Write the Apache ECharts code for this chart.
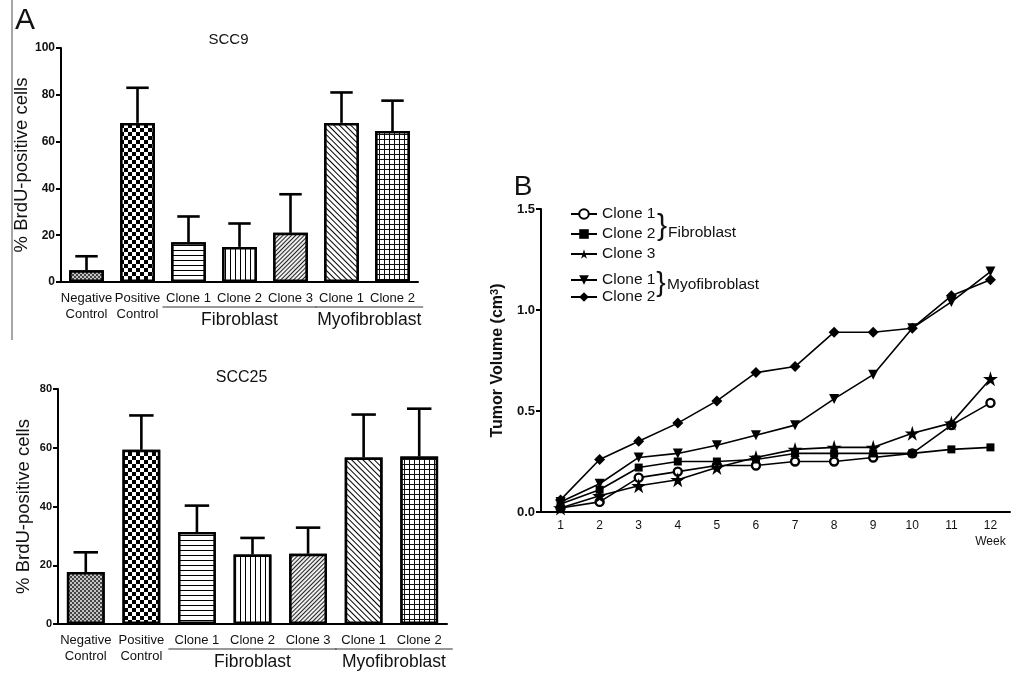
<!DOCTYPE html>
<html>
<head>
<meta charset="utf-8">
<script src="https://cdn.jsdelivr.net/npm/echarts@6/dist/echarts.min.js"></script>
<style>
html, body { margin: 0; padding: 0; background: #fff; }
#main { width: 1021px; height: 674px; }
</style>
</head>
<body>
<div id="main"></div>
<script>
// --- data ---
var barCategories = ['Negative\nControl', 'Positive\nControl', 'Clone 1', 'Clone 2', 'Clone 3', 'Clone 1', 'Clone 2'];
var scc9Mean = [5, 68, 17, 15, 21, 68, 64.5];
var scc9Upper = [11, 83, 28, 25, 37.5, 81, 77.5];
var scc25Mean = [17.7, 59.3, 31.3, 23.7, 23.9, 56.7, 57];
var scc25Upper = [24.4, 71, 40.3, 29.3, 32.8, 71.3, 73.3];
var groupNames = ['Fibroblast', 'Myofibroblast'];
var groupFrom = [2, 5];
var groupTo = [4, 6];

var weeks = ['1', '2', '3', '4', '5', '6', '7', '8', '9', '10', '11', '12'];
var fibClone1 = [0.02, 0.05, 0.17, 0.20, 0.23, 0.23, 0.25, 0.25, 0.27, 0.29, 0.43, 0.54];
var fibClone2 = [0.04, 0.11, 0.22, 0.25, 0.25, 0.26, 0.29, 0.29, 0.29, 0.29, 0.31, 0.32];
var fibClone3 = [0.02, 0.08, 0.13, 0.16, 0.22, 0.27, 0.31, 0.32, 0.32, 0.39, 0.44, 0.66];
var myoClone1 = [0.05, 0.14, 0.27, 0.29, 0.33, 0.38, 0.43, 0.56, 0.68, 0.91, 1.04, 1.19];
var myoClone2 = [0.06, 0.26, 0.35, 0.44, 0.55, 0.69, 0.72, 0.89, 0.89, 0.91, 1.07, 1.15];

var FONT = '"Liberation Sans", Arial, sans-serif';

// fill patterns of the bars (one per category)
var patterns = [
    { symbol: 'rect', symbolKeepAspect: false, color: '#444', backgroundColor: '#c4c4c4', dashArrayX: [[2, 2], [0, 2, 2, 0]], dashArrayY: [2, 0] },
    { symbol: 'rect', symbolKeepAspect: false, color: '#000', backgroundColor: '#fff', dashArrayX: [[3.5, 3.5], [0, 3.5, 3.5, 0]], dashArrayY: [3.5, 0] },
    { symbol: 'rect', symbolKeepAspect: false, color: '#000', backgroundColor: '#fff', dashArrayX: [1, 0], dashArrayY: [1, 3.5] },
    { symbol: 'rect', symbolKeepAspect: false, color: '#000', backgroundColor: '#fff', dashArrayX: [1, 3.5], dashArrayY: [1, 0] },
    { symbol: 'rect', symbolKeepAspect: false, color: '#222', backgroundColor: '#eee', dashArrayX: [1, 0], dashArrayY: [1, 2], rotation: -Math.PI / 4 },
    { symbol: 'rect', symbolKeepAspect: false, color: '#000', backgroundColor: '#fff', dashArrayX: [1, 0], dashArrayY: [1, 3], rotation: Math.PI / 4 },
    { symbol: 'rect', symbolKeepAspect: false, color: '#fff', backgroundColor: '#111', dashArrayX: [3.8, 1], dashArrayY: [3.8, 1] }
];

var dom = document.getElementById('main');
var chart = echarts.init(dom);

function barSeries(idx, mean) {
    return {
        type: 'bar',
        xAxisIndex: idx,
        yAxisIndex: idx,
        barWidth: '68%',
        itemStyle: { color: '#fff', borderColor: '#000', borderWidth: 2.5 },
        data: mean.map(function (v, i) {
            return { value: v, itemStyle: { decal: patterns[i] } };
        }),
        silent: true
    };
}

function errorSeries(idx, mean, upper) {
    return {
        type: 'custom',
        xAxisIndex: idx,
        yAxisIndex: idx,
        z: 5,
        encode: { x: 0, y: [1, 2] },
        data: mean.map(function (m, i) { return [i, m, upper[i]]; }),
        renderItem: function (params, api) {
            var x = api.value(0);
            var lo = api.coord([x, api.value(1)]);
            var hi = api.coord([x, api.value(2)]);
            var half = api.size([1, 0])[0] * 0.22;
            var st = { stroke: '#000', lineWidth: 2.6 };
            return {
                type: 'group',
                children: [
                    { type: 'line', shape: { x1: lo[0], y1: lo[1], x2: hi[0], y2: hi[1] }, style: st },
                    { type: 'line', shape: { x1: hi[0] - half, y1: hi[1], x2: hi[0] + half, y2: hi[1] }, style: st }
                ]
            };
        }
    };
}

var starPath = 'path://M50,0 L61,35 L98,35 L68,57 L79,91 L50,70 L21,91 L32,57 L2,35 L39,35 Z';

function lineSeries(name, data, symbol, size, extra) {
    var s = {
        name: name,
        type: 'line',
        xAxisIndex: 2,
        yAxisIndex: 2,
        data: data,
        symbol: symbol,
        symbolSize: size,
        showAllSymbol: true,
        lineStyle: { color: '#000', width: 1.6 },
        itemStyle: { color: '#000', borderColor: '#000', borderWidth: 0 },
        emphasis: { disabled: true }
    };
    if (extra) {
        for (var k in extra) { s[k] = extra[k]; }
    }
    return s;
}

function catAxis(idx) {
    return {
        type: 'category',
        gridIndex: idx,
        data: barCategories,
        axisLine: { lineStyle: { color: '#000', width: 2 } },
        axisTick: { alignWithLabel: true, length: 6, lineStyle: { color: '#000', width: 2 } },
        axisLabel: { color: '#111', fontSize: 13, fontFamily: FONT, lineHeight: 16, margin: 8, interval: 0 }
    };
}

function valAxis(idx, max, fs) {
    return {
        type: 'value',
        gridIndex: idx,
        min: 0,
        max: max,
        interval: 20,
        name: '% BrdU-positive cells',
        nameLocation: 'middle',
        nameGap: 25,
        nameTextStyle: { color: '#111', fontSize: 18.5, fontFamily: FONT },
        splitLine: { show: false },
        axisLine: { show: true, lineStyle: { color: '#000', width: 2 } },
        axisTick: { show: true, length: 5, lineStyle: { color: '#000', width: 2 } },
        axisLabel: { color: '#111', fontSize: fs, fontWeight: 'bold', fontFamily: FONT, margin: 6 }
    };
}

var option = {
    animation: false,
    backgroundColor: '#fff',
    grid: [
        { left: 61, top: 48, width: 357, height: 234 },
        { left: 58, top: 389, width: 389, height: 235 },
        { left: 541, top: 209, width: 469, height: 303 }
    ],
    legend: [
        {
            data: ['Fibroblast Clone 1', 'Fibroblast Clone 2', 'Fibroblast Clone 3'],
            orient: 'vertical', left: 565, top: 201, itemGap: 4,
            itemWidth: 26, itemHeight: 12, selectedMode: false,
            formatter: function (n) { return n.replace(/^\S+ /, ''); },
            textStyle: { color: '#111', fontSize: 15.5, fontFamily: FONT, lineHeight: 16 }
        },
        {
            data: ['Myofibroblast Clone 1', 'Myofibroblast Clone 2'],
            orient: 'vertical', left: 565, top: 267, itemGap: 1,
            itemWidth: 26, itemHeight: 12, selectedMode: false,
            formatter: function (n) { return n.replace(/^\S+ /, ''); },
            textStyle: { color: '#111', fontSize: 15.5, fontFamily: FONT, lineHeight: 16 }
        }
    ],
    xAxis: [
        catAxis(0),
        catAxis(1),
        {
            type: 'category',
            gridIndex: 2,
            data: weeks,
            boundaryGap: true,
            axisLine: { lineStyle: { color: '#000', width: 2 } },
            axisTick: { alignWithLabel: true, length: 6, lineStyle: { color: '#000', width: 2 } },
            axisLabel: { color: '#111', fontSize: 12, fontFamily: FONT, margin: 8 }
        }
    ],
    yAxis: [
        valAxis(0, 100, 12),
        valAxis(1, 80, 11),
        {
            type: 'value',
            gridIndex: 2,
            min: 0,
            max: 1.5,
            interval: 0.5,
            name: 'Tumor Volume (cm{sup|3})',
            nameLocation: 'middle',
            nameGap: 34,
            nameTextStyle: {
                color: '#111', fontSize: 16, fontWeight: 'bold', fontFamily: FONT,
                rich: { sup: { fontSize: 11, fontWeight: 'bold', verticalAlign: 'top', padding: [0, 0, 7, 0], fontFamily: FONT, color: '#111' } }
            },
            splitLine: { show: false },
            axisLine: { show: true, lineStyle: { color: '#000', width: 2 } },
            axisTick: { show: true, length: 5, lineStyle: { color: '#000', width: 2 } },
            axisLabel: {
                color: '#111', fontSize: 13, fontWeight: 'bold', fontFamily: FONT, margin: 6,
                formatter: function (v) { return v.toFixed(1); }
            }
        }
    ],
    series: [
        barSeries(0, scc9Mean),
        errorSeries(0, scc9Mean, scc9Upper),
        barSeries(1, scc25Mean),
        errorSeries(1, scc25Mean, scc25Upper),
        lineSeries('Fibroblast Clone 1', fibClone1, 'circle', 8, {
            itemStyle: { color: '#fff', borderColor: '#000', borderWidth: 2.4 }
        }),
        lineSeries('Fibroblast Clone 2', fibClone2, 'rect', 8),
        lineSeries('Fibroblast Clone 3', fibClone3, starPath, 15),
        lineSeries('Myofibroblast Clone 1', myoClone1, 'triangle', 10, { symbolRotate: 180 }),
        lineSeries('Myofibroblast Clone 2', myoClone2, 'diamond', 11)
    ]
};

chart.setOption(option);

// annotations placed from the axes' own scales
var graphics = [];
function txt(x, y, s, size, extra) {
    var st = { text: s, x: x, y: y, fill: '#111', font: size + 'px ' + FONT, textAlign: 'center', textVerticalAlign: 'middle' };
    if (extra) { for (var k in extra) { st[k] = extra[k]; } }
    graphics.push({ type: 'text', silent: true, style: st });
}

[0, 1].forEach(function (gi) {
    var y0 = chart.convertToPixel({ yAxisIndex: gi }, 0);
    var p0 = chart.convertToPixel({ xAxisIndex: gi }, 0);
    var bw = chart.convertToPixel({ xAxisIndex: gi }, 1) - p0;
    groupNames.forEach(function (name, k) {
        var a = chart.convertToPixel({ xAxisIndex: gi }, groupFrom[k]) - bw * 0.55;
        var b = chart.convertToPixel({ xAxisIndex: gi }, groupTo[k]) + bw * (k === 0 ? 0.55 : 0.64);
        graphics.push({
            type: 'line', silent: true,
            shape: { x1: a + 2, y1: y0 + 25, x2: b - 2, y2: y0 + 25 },
            style: { stroke: '#333', lineWidth: 1.2 }
        });
        txt((a + b) / 2, y0 + 38, name, 17.5);
    });
});

var titleX0 = chart.convertToPixel({ xAxisIndex: 0 }, 3);
var titleX1 = chart.convertToPixel({ xAxisIndex: 1 }, 3);
txt(titleX0 - 11, 40, 'SCC9', 15);
txt(titleX1 - 11, 378, 'SCC25', 16);

// panel letters and the thin rule on the left
txt(25, 21, 'A', 30);
txt(523, 187, 'B', 28);
graphics.push({
    type: 'line', silent: true,
    shape: { x1: 12, y1: 0, x2: 12, y2: 340 },
    style: { stroke: '#888', lineWidth: 1.5 }
});

// braces next to the legend
txt(662, 227, '}', 30, { font: '30px ' + FONT });
txt(668, 233, 'Fibroblast', 15.5, { textAlign: 'left' });
txt(661, 283, '}', 28, { font: '28px ' + FONT });
txt(667, 285, 'Myofibroblast', 15.5, { textAlign: 'left' });

// "Week" under the last tick
var wx = chart.convertToPixel({ xAxisIndex: 2 }, 11);
var wy = chart.convertToPixel({ yAxisIndex: 2 }, 0);
txt(wx, wy + 30, 'Week', 12);

chart.setOption({ graphic: graphics });
</script>
</body>
</html>
